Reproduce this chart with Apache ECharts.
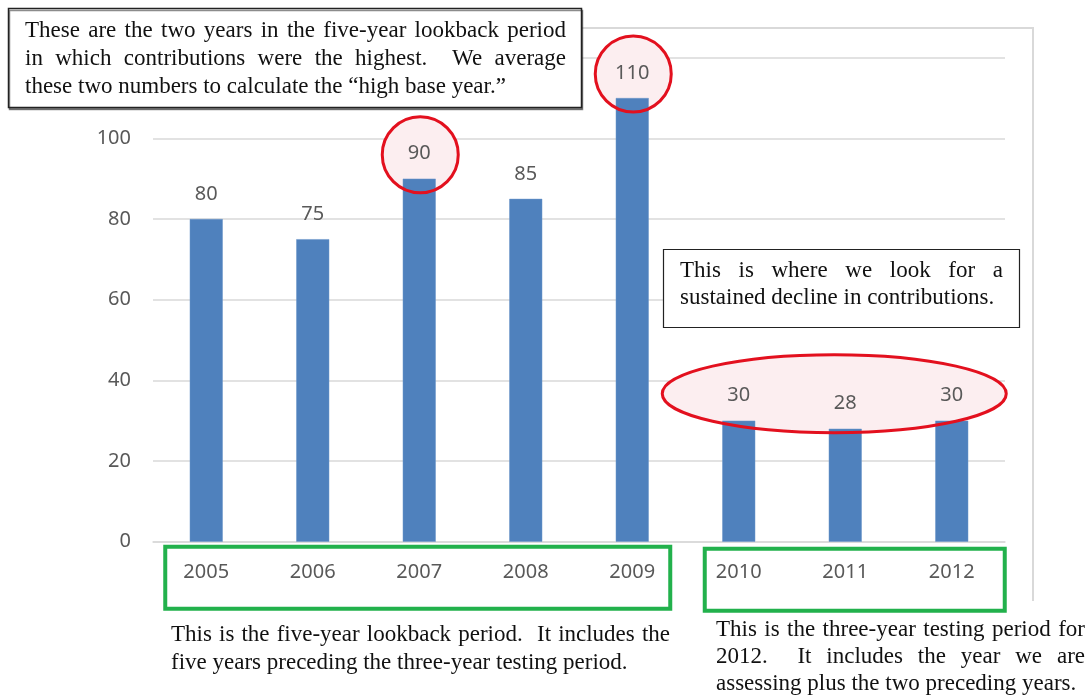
<!DOCTYPE html>
<html><head><meta charset="utf-8">
<script src="https://cdn.jsdelivr.net/npm/echarts@6/dist/echarts.min.js"></script>
<style>html,body{margin:0;padding:0;background:#fff}#c{width:1089px;height:696px}</style>
</head><body><div id="c"></div>
<script>
// ---- data ----
const years = ['2005','2006','2007','2008','2009','2010','2011','2012'];
const contributions = [80, 75, 90, 85, 110, 30, 28, 30];
const yMin = 0, yMax = 120, yStep = 20;
const highYears = ['2007', '2009'];
const lookbackYears = ['2005','2006','2007','2008','2009'];
const testingYears = ['2010','2011','2012'];

const noteTop = [
  {text: 'These are the two years in the five-year lookback period', justify: true},
  {text: 'in which contributions were the highest.  We average', justify: true},
  {text: 'these two numbers to calculate the \u201chigh base year.\u201d', justify: false}
];
const noteDecline = [
  {text: 'This is where we look for a', justify: true},
  {text: 'sustained decline in contributions.', justify: false}
];
const noteLookback = [
  {text: 'This is the five-year lookback period.  It includes the', justify: true},
  {text: 'five years preceding the three-year testing period.', justify: false}
];
const noteTesting = [
  {text: 'This is the three-year testing period for', justify: true},
  {text: '2012.  It includes the year we are', justify: true},
  {text: 'assessing plus the two preceding years.', justify: false}
];

const chart = echarts.init(document.getElementById('c'), null, {renderer: 'canvas'});
const axisFont = '"Noto Sans", "Open Sans", sans-serif';

chart.setOption({
  animation: false,
  backgroundColor: '#fff',
  grid: {left: 153, right: 84, top: 57.7, bottom: 154.3, containLabel: false},
  xAxis: {
    type: 'category', data: years,
    axisLine: {lineStyle: {color: '#D9D9D9', width: 1.5}},
    axisTick: {show: false},
    axisLabel: {color: '#595959', fontSize: 20, fontFamily: axisFont, margin: 21}
  },
  yAxis: {
    type: 'value', min: yMin, max: yMax, interval: yStep,
    axisLine: {show: false}, axisTick: {show: false},
    axisLabel: {color: '#595959', fontSize: 20, fontFamily: axisFont, margin: 22},
    splitLine: {lineStyle: {color: '#D9D9D9', width: 1.5}}
  },
  series: [{
    type: 'bar', data: contributions, barWidth: 33, z: 3,
    itemStyle: {color: '#4F81BD', borderColor: '#6a95c9', borderWidth: 0.5},
    label: {show: true, position: 'top', distance: 15, color: '#595959', fontSize: 20, fontFamily: axisFont}
  }]
});

// ---- annotations ----
const ctx = document.createElement('canvas').getContext('2d');
const serif = '23px "Liberation Serif", "Times New Roman", serif';
function mw(t){ ctx.font = serif; return ctx.measureText(t).width; }
function textBlock(lines, x0, x1, y0, lh){
  const els = [];
  lines.forEach((ln, i) => {
    const y = y0 + i * lh;
    if (ln.justify) {
      const words = ln.text.split(' ');
      const widths = words.map(mw);
      const total = widths.reduce((a, b) => a + b, 0);
      const gap = (x1 - x0 - total) / (words.length - 1);
      let x = x0;
      words.forEach((w, j) => {
        if (w) els.push({type: 'text', z: 110, x: x, y: y, style: {text: w, font: serif, fill: '#111', align: 'left', verticalAlign: 'middle'}});
        x += widths[j] + gap;
      });
    } else {
      els.push({type: 'text', z: 110, x: x0, y: y, style: {text: ln.text, font: serif, fill: '#111', align: 'left', verticalAlign: 'middle'}});
    }
  });
  return els;
}
function px(year, v){ return chart.convertToPixel({seriesIndex: 0}, [years.indexOf(year), v]); }

const base = px(years[0], 0)[1];
const pinkFill = '#FCEEF0';
const red = '#E3101E';
const circles = [];
highYears.forEach(y => {
  const p = px(y, contributions[years.indexOf(y)]);
  const shape = {cx: p[0] + 1, cy: p[1] - 24, r: 38};
  circles.push({type: 'circle', z: 1, shape: shape, style: {fill: pinkFill, stroke: 'none'}});
  circles.push({type: 'circle', z: 105, shape: shape, style: {fill: 'none', stroke: red, lineWidth: 3}});
});
const tFirst = px(testingYears[0], contributions[years.indexOf(testingYears[0])]);
const tLast = px(testingYears[testingYears.length - 1], 0);
const eShape = {cx: (tFirst[0] + tLast[0]) / 2 - 11, cy: tFirst[1] - 27, rx: 172, ry: 39};
const ellipses = [
  {type: 'ellipse', z: 1, shape: eShape, style: {fill: pinkFill, stroke: 'none'}},
  {type: 'ellipse', z: 105, shape: eShape, style: {fill: 'none', stroke: red, lineWidth: 3}}
];

const lbL = px(lookbackYears[0], 0)[0] - 41, lbR = px(lookbackYears[lookbackYears.length - 1], 0)[0] + 38;
const tsL = px(testingYears[0], 0)[0] - 34, tsR = px(testingYears[testingYears.length - 1], 0)[0] + 53;
const greenBoxes = [
  {type: 'rect', z: 104, shape: {x: lbL, y: base + 5, width: lbR - lbL, height: 62}, style: {fill: 'none', stroke: '#22B14C', lineWidth: 4}},
  {type: 'rect', z: 104, shape: {x: tsL, y: base + 7, width: tsR - tsL, height: 62}, style: {fill: 'none', stroke: '#22B14C', lineWidth: 4}}
];

const frame = {type: 'polyline', z: 1, shape: {points: [[560, 28], [1033, 28], [1033, 601]]}, style: {fill: 'none', stroke: '#D9D9D9', lineWidth: 2}};

const boxTop = {type: 'rect', z: 108, shape: {x: 8.5, y: 8.5, width: 573, height: 99},
  style: {fill: '#fff', stroke: '#222', lineWidth: 1.5, shadowColor: 'rgba(0,0,0,0.45)', shadowOffsetX: 1, shadowOffsetY: 2, shadowBlur: 0}};
const boxDecline = {type: 'rect', z: 108, shape: {x: 663.5, y: 249.5, width: 356, height: 78},
  style: {fill: '#fff', stroke: '#222', lineWidth: 1.2}};

const elements = [frame, boxTop, boxDecline, ...greenBoxes, ...circles, ...ellipses]
  .concat(textBlock(noteTop, 25, 566, 31, 28))
  .concat(textBlock(noteDecline, 680, 1003, 270.5, 27))
  .concat(textBlock(noteLookback, 171, 670, 635, 27.5))
  .concat(textBlock(noteTesting, 716, 1085, 630, 27));

chart.setOption({graphic: {elements: elements}});
</script>
</body></html>
